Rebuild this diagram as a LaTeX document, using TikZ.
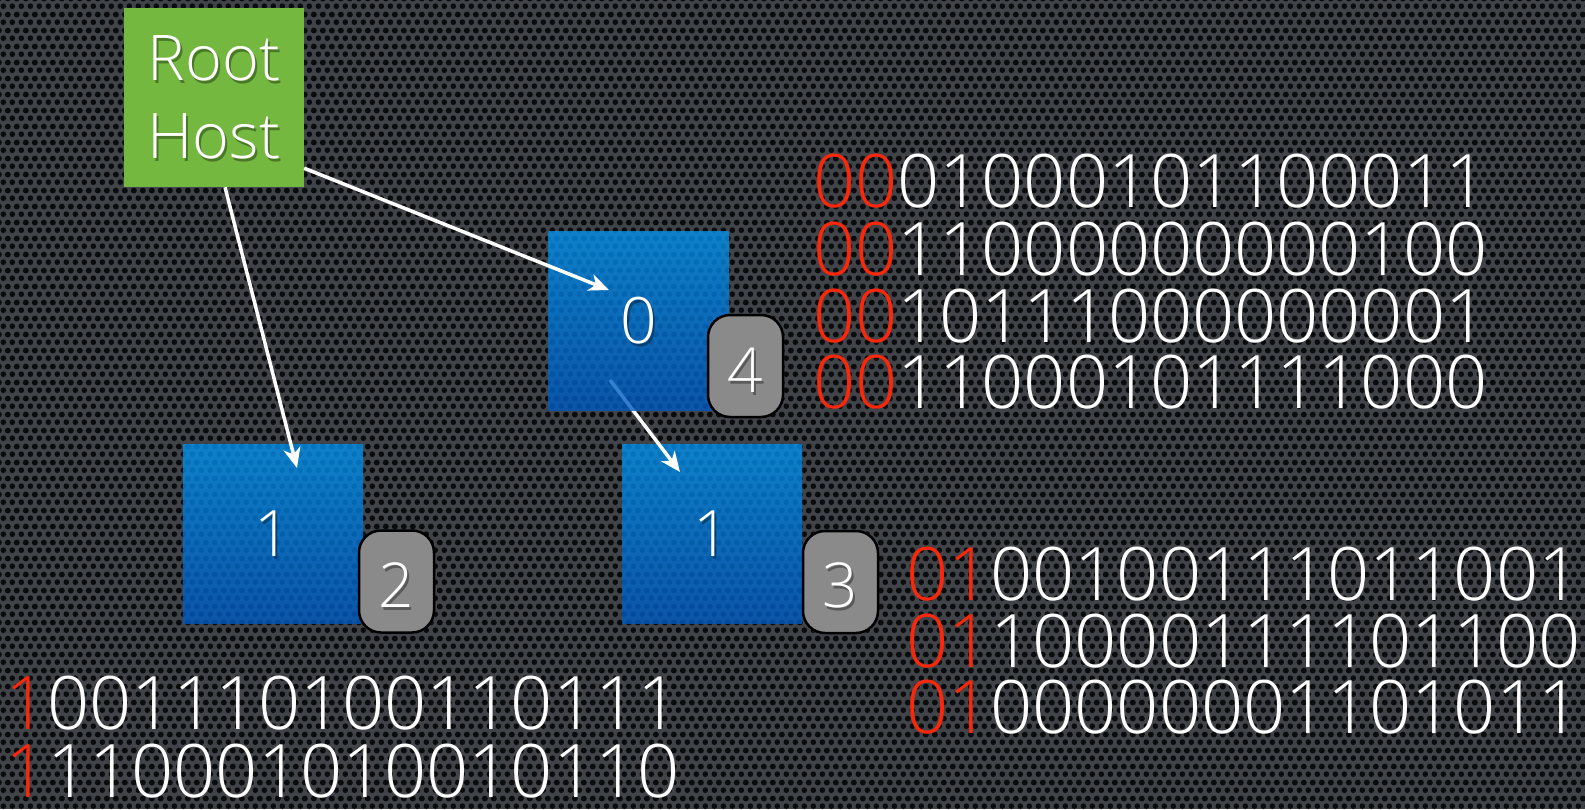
\documentclass[tikz,border=0pt]{standalone}
\usepackage{fontspec}
% a light grotesque if one is available, otherwise Heros
\IfFontExistsTF{Open Sans Light}{%
  \setmainfont{Open Sans Light}
  \def\bitsz{73.8}\def\cellsz{64}\def\tagsz{62}\def\hostsz{63}
  \def\zeroxa{813}\def\zeroxb{906}\def\onex{5}
}{%
  \setmainfont{TeX Gyre Heros}
  \def\bitsz{75}\def\cellsz{65}\def\tagsz{62}\def\hostsz{64}
  \def\zeroxa{814}\def\zeroxb{907}\def\onex{9}
}
\usetikzlibrary{arrows.meta,patterns,calc}

\definecolor{meshgray}{RGB}{64,67,72}
\definecolor{holeblack}{RGB}{10,11,12}
\definecolor{rootgreen}{RGB}{116,184,64}
\definecolor{bluetop}{RGB}{2,144,234}
\definecolor{bluebot}{RGB}{0,89,191}
\definecolor{badgegray}{RGB}{138,138,138}
\definecolor{bitred}{RGB}{250,40,10}

% perforated metal: hexagonal grid of round holes
\pgfdeclarepatternformonly{perforation}{\pgfqpoint{0pt}{0pt}}{\pgfqpoint{9.3pt}{16.1pt}}{\pgfqpoint{9.3pt}{16.1pt}}{%
  \pgfpathcircle{\pgfqpoint{4.65pt}{4.02pt}}{3pt}%
  \pgfpathcircle{\pgfqpoint{0pt}{12.07pt}}{3pt}%
  \pgfpathcircle{\pgfqpoint{9.3pt}{12.07pt}}{3pt}%
  \pgfusepath{fill}}

\tikzset{
  host/.style={fill=rootgreen, minimum width=180pt, minimum height=179pt, inner sep=0pt},
  cellbox/.style={minimum width=180pt, minimum height=179pt, inner sep=0pt,
    top color=bluetop, bottom color=bluebot, fill opacity=0.8},
  tag/.style={draw=black, line width=2.5pt, fill=badgegray, rounded corners=22pt,
    minimum width=75pt, minimum height=102pt, inner sep=0pt},
  lbl/.style={inner sep=0pt, text=white, font=\fontsize{\cellsz}{\cellsz}\selectfont},
  taglbl/.style={inner sep=0pt, text=white, font=\fontsize{\tagsz}{\tagsz}\selectfont},
  hostlbl/.style={inner sep=0pt, text=white, align=center, font=\fontsize{\hostsz}{78}\selectfont},
  shade/.style={text=black, text opacity=0.35},
  bits/.style={inner sep=0pt, anchor=base west, text=white, font=\fontsize{\bitsz}{\bitsz}\selectfont},
  link/.style={draw=white, line width=3.5pt, -{Stealth[length=20pt,width=17pt,inset=6pt]}},
}

\begin{document}
\begin{tikzpicture}[x=1pt,y=-1pt]
\useasboundingbox (0,0) rectangle (1585,809);

% background plate
\fill[meshgray] (0,0) rectangle (1585,809);
\fill[pattern=perforation, pattern color=holeblack] (0,0) rectangle (1585,809);

% hosts
\node[host] (root) at (214,97.5) {};
\node[cellbox] (b1L) at (273,533.5) {};
\node[cellbox] (b1R) at (712,533.5) {};
\coordinate (b0c) at (638.5,321);

% link from host 0 to host 1, running under the translucent box of host 0
\coordinate (a3s) at ($(b0c)+(-28.5,59)$);
\coordinate (a3e) at ($(b1R.center)+(-32,-61.5)$);
\draw[link] (a3s) -- (a3e);

\node[cellbox] (b0) at (b0c) {};

% labels with soft drop shadows
\node[hostlbl, shade] (rootsh) at ($(root)+(2,3)$) {Root\\Host};
\node[hostlbl] (roottx) at (root) {Root\\Host};
\node[lbl, shade] (t0sh) at ($(b0)+(2,3)$) {0};
\node[lbl] (t0) at (b0) {0};
\node[lbl, shade] (t1Lsh) at ($(b1L)+(2,3)$) {1};
\node[lbl] (t1L) at (b1L) {1};
\node[lbl, shade] (t1Rsh) at ($(b1R)+(2,3)$) {1};
\node[lbl] (t1R) at (b1R) {1};

% hop-count badges
\node[tag] (g4) at (745.5,366) {};
\node[tag] (g2) at (396.5,581.5) {};
\node[tag] (g3) at (840.5,582) {};
\node[taglbl, shade] (g4sh) at ($(g4)+(2,7)$) {4};
\node[taglbl] (g4t) at ($(g4)+(0,4)$) {4};
\node[taglbl, shade] (g2sh) at ($(g2)+(2,6.5)$) {2};
\node[taglbl] (g2t) at ($(g2)+(0,3.5)$) {2};
\node[taglbl, shade] (g3sh) at ($(g3)+(2,6.5)$) {3};
\node[taglbl] (g3t) at ($(g3)+(0,3.5)$) {3};

% links from the root host
\coordinate (a1s) at ($(root.south)+(11,0)$);
\coordinate (a1e) at ($(b1L.center)+(24,-65.5)$);
\coordinate (a2s) at ($(root.south east)+(0,-19)$);
\coordinate (a2e) at ($(b0.center)+(-29.5,-31)$);
\draw[link] (a1s) -- (a1e);
\draw[link] (a2s) -- (a2e);

% identifiers held below each host, shared prefix in red
\node[bits] (r1) at (\zeroxa,207) {\textcolor{bitred}{00}01000101100011};
\node[bits] (r2) at (\zeroxa,275) {\textcolor{bitred}{00}11000000000100};
\node[bits] (r3) at (\zeroxa,342) {\textcolor{bitred}{00}10111000000001};
\node[bits] (r4) at (\zeroxa,408) {\textcolor{bitred}{00}11000101111000};

\node[bits] (s1) at (\zeroxb,600) {\textcolor{bitred}{01}00100111011001};
\node[bits] (s2) at (\zeroxb,667) {\textcolor{bitred}{01}10000111101100};
\node[bits] (s3) at (\zeroxb,733) {\textcolor{bitred}{01}00000001101011};

\node[bits] (l1) at (\onex,729) {\textcolor{bitred}{1}001110100110111};
\node[bits] (l2) at (\onex,797) {\textcolor{bitred}{1}110001010010110};
\end{tikzpicture}
\end{document}
